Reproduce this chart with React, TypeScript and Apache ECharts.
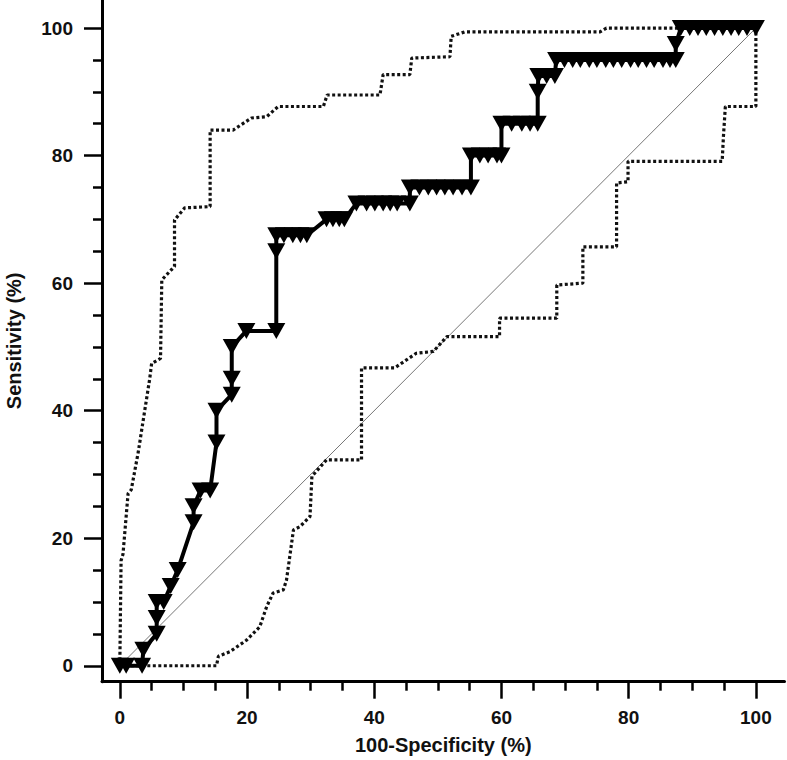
import React, { useEffect, useRef } from "react";
import * as echarts from "echarts";

// ROC curve: 100-Specificity (x) and Sensitivity (y), in %
const rocX = [0, 1, 3.5, 3.7, 5.8, 5.8, 5.8, 6.9, 8.0, 9.1, 11.6, 11.6, 12.7, 14.2, 15.2, 15.2, 17.6, 17.6, 17.6, 19.9, 24.6, 24.6, 24.6, 25.8, 27.2, 28.4, 29.4, 32.5, 33.5, 34.5, 35.3, 37.2, 38.8, 40.1, 41.4, 42.5, 43.6, 45.6, 45.6, 47.1, 48.5, 49.8, 51.1, 52.4, 53.8, 55.2, 55.2, 56.6, 57.9, 59.3, 60.0, 60.0, 61.6, 63.2, 64.5, 65.7, 65.7, 65.8, 67.1, 68.4, 68.6, 69.9, 71.2, 72.4, 73.8, 75.0, 76.4, 77.6, 78.9, 80.3, 81.5, 82.8, 84.0, 85.4, 86.5, 87.4, 87.4, 88.2, 89.6, 90.9, 92.2, 93.5, 94.8, 96.1, 97.3, 98.6, 100];
const rocY = [0, 0, 0, 2.5, 5, 7.5, 10, 10, 12.5, 15, 22.5, 25, 27.5, 27.5, 35, 40, 42.5, 45, 50, 52.5, 52.5, 65, 67.5, 67.5, 67.5, 67.5, 67.5, 70, 70, 70, 70, 72.5, 72.5, 72.5, 72.5, 72.5, 72.5, 72.5, 75, 75, 75, 75, 75, 75, 75, 75, 80, 80, 80, 80, 80, 85, 85, 85, 85, 85, 90, 92.5, 92.5, 92.5, 95, 95, 95, 95, 95, 95, 95, 95, 95, 95, 95, 95, 95, 95, 95, 95, 97.5, 100, 100, 100, 100, 100, 100, 100, 100, 100, 100];

// Upper 95% confidence bound
const upperX = [0, 0.2, 0.5, 1.3, 1.8, 2.9, 3.6, 4.7, 5.0, 6.4, 6.6, 8.1, 8.6, 8.6, 10.2, 14.2, 14.2, 17.8, 20.7, 23.1, 24.9, 32.0, 32.6, 40.9, 41.4, 45.6, 45.9, 51.9, 52.1, 54.2, 75.5, 76.5, 100];
const upperY = [0, 16.5, 17.5, 27.0, 27.6, 33.5, 38.0, 45.0, 47.4, 48.2, 60.5, 62.1, 62.6, 69.9, 71.8, 72.0, 84.0, 84.0, 85.9, 86.1, 87.7, 87.7, 89.5, 89.5, 92.7, 92.7, 95.3, 95.5, 98.7, 99.4, 99.4, 100, 100];

// Lower 95% confidence bound
const lowerX = [0, 15.2, 15.5, 17.3, 19.9, 22.0, 23.1, 24.1, 25.7, 26.2, 27.3, 28.3, 29.9, 30.2, 32.5, 38.0, 38.0, 43.2, 46.6, 49.3, 51.4, 59.7, 59.7, 68.7, 68.7, 72.8, 72.8, 78.1, 78.1, 79.9, 79.9, 94.7, 94.9, 95.2, 100, 100];
const lowerY = [0, 0, 1.5, 2.2, 4.0, 6.1, 9.3, 11.4, 11.9, 13.4, 21.3, 21.8, 23.4, 29.7, 32.3, 32.3, 46.7, 46.7, 49.0, 49.3, 51.6, 51.6, 54.5, 54.5, 59.7, 60.0, 65.7, 65.7, 75.7, 75.9, 79.1, 79.1, 83.0, 87.7, 87.7, 100];

// Reference diagonal
const diagX = [0, 100];
const diagY = [0, 100];

const majorTicks = [0, 20, 40, 60, 80, 100];
const minorTicks = [5, 10, 15, 25, 30, 35, 45, 50, 55, 65, 70, 75, 85, 90, 95];

const xTitle = "100-Specificity (%)";
const yTitle = "Sensitivity (%)";

const FONT = "'Liberation Sans', Arial, sans-serif";

const pairs = (xs: number[], ys: number[]) => xs.map((x, i) => [x, ys[i]]);

export default function App() {
  const ref = useRef<HTMLDivElement>(null);

  useEffect(() => {
    if (!ref.current) return;
    const chart = echarts.init(ref.current, undefined, { renderer: "svg" });

    const X_MIN = -2.8;
    const X_MAX = 104.5;
    const Y_MIN = -2.5;
    const Y_MAX = 104.4;

    const labelStyle = {
      fontFamily: FONT,
      fontWeight: "bold" as const,
      fontSize: 19,
      color: "#111",
    };
    const titleStyle = {
      fontFamily: FONT,
      fontWeight: "bold" as const,
      fontSize: 20,
      color: "#111",
    };

    const option = {
      animation: false,
      backgroundColor: "#ffffff",
      grid: {
        left: 102,
        top: 0,
        width: 682.5,
        height: 681.7,
        containLabel: false,
        outerBoundsMode: "none",
      },
      xAxis: [
        {
          type: "value",
          position: "bottom",
          min: X_MIN,
          max: X_MAX,
          axisLine: { show: true, onZero: false, lineStyle: { color: "#000", width: 3 } },
          axisTick: { show: true, customValues: majorTicks, length: 17, lineStyle: { color: "#000", width: 2.5 } },
          axisLabel: { show: true, customValues: majorTicks, margin: 26, ...labelStyle },
          splitLine: { show: false },
          name: xTitle,
          nameLocation: "middle",
          nameGap: 53,
          nameTextStyle: titleStyle,
        },
        {
          type: "value",
          position: "bottom",
          min: X_MIN,
          max: X_MAX,
          axisLine: { show: false, onZero: false },
          axisTick: { show: true, customValues: minorTicks, length: 9, lineStyle: { color: "#000", width: 2.5 } },
          axisLabel: { show: false },
          splitLine: { show: false },
        },
      ],
      yAxis: [
        {
          type: "value",
          position: "left",
          min: Y_MIN,
          max: Y_MAX,
          axisLine: { show: true, onZero: false, lineStyle: { color: "#000", width: 3 } },
          axisTick: { show: true, customValues: majorTicks, length: 18, lineStyle: { color: "#000", width: 2.5 } },
          axisLabel: { show: true, customValues: majorTicks, margin: 29, ...labelStyle },
          splitLine: { show: false },
          name: yTitle,
          nameLocation: "middle",
          nameGap: 78,
          nameTextStyle: titleStyle,
        },
        {
          type: "value",
          position: "left",
          min: Y_MIN,
          max: Y_MAX,
          axisLine: { show: false, onZero: false },
          axisTick: { show: true, customValues: minorTicks, length: 9, lineStyle: { color: "#000", width: 2.5 } },
          axisLabel: { show: false },
          splitLine: { show: false },
        },
      ],
      series: [
        {
          type: "line",
          name: "diagonal",
          data: pairs(diagX, diagY),
          symbol: "none",
          lineStyle: { color: "#777", width: 1 },
          z: 1,
          silent: true,
        },
        {
          type: "line",
          name: "upper",
          data: pairs(upperX, upperY),
          symbol: "none",
          lineStyle: { color: "#111", width: 3.2, type: [3, 2.5], cap: "butt" },
          z: 2,
          silent: true,
        },
        {
          type: "line",
          name: "lower",
          data: pairs(lowerX, lowerY),
          symbol: "none",
          lineStyle: { color: "#111", width: 3.2, type: [3, 2.5], cap: "butt" },
          z: 2,
          silent: true,
        },
        {
          type: "line",
          name: "roc",
          data: pairs(rocX, rocY),
          symbol: "triangle",
          symbolRotate: 180,
          symbolSize: [18, 16],
          showSymbol: true,
          showAllSymbol: true,
          itemStyle: { color: "#000", borderWidth: 0 },
          lineStyle: { color: "#000", width: 4 },
          z: 3,
          clip: false,
          silent: true,
        },
      ],
    };

    chart.setOption(option as any);
    return () => chart.dispose();
  }, []);

  return (
    <div
      ref={ref}
      style={{ position: "absolute", left: 0, top: 0, width: 787, height: 760, background: "#fff" }}
    />
  );
}
